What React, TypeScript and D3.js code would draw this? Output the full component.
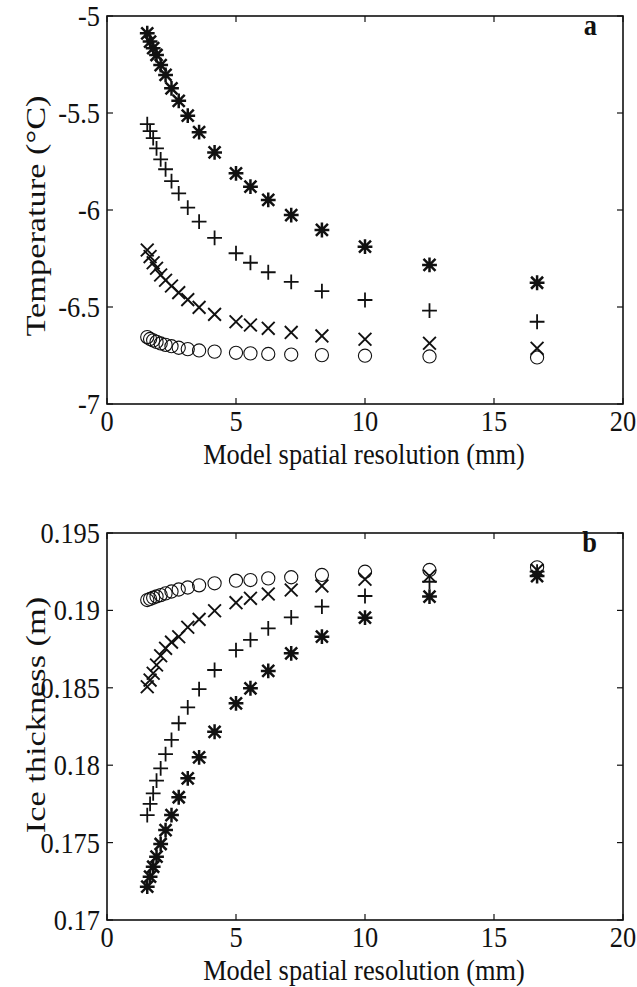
import React from "react";
import * as d3 from "d3";

// Model spatial resolution (mm) shared by every run
const resolution = [16.67, 12.5, 10, 8.33, 7.14, 6.25, 5.56, 5, 4.17, 3.57, 3.13, 2.78, 2.5, 2.27, 2.08, 1.92, 1.79, 1.67, 1.56];

// Panel a: temperature (°C)
const tempStar = [-6.375, -6.283, -6.189, -6.103, -6.026, -5.948, -5.88, -5.811, -5.703, -5.599, -5.514, -5.437, -5.373, -5.304, -5.253, -5.201, -5.166, -5.132, -5.089];
const tempPlus = [-6.576, -6.519, -6.464, -6.418, -6.37, -6.321, -6.272, -6.223, -6.144, -6.06, -5.988, -5.914, -5.851, -5.79, -5.739, -5.682, -5.63, -5.593, -5.557];
const tempCross = [-6.713, -6.687, -6.666, -6.649, -6.631, -6.61, -6.593, -6.576, -6.538, -6.502, -6.462, -6.426, -6.392, -6.362, -6.335, -6.3, -6.272, -6.24, -6.206];
const tempCircle = [-6.76, -6.755, -6.751, -6.748, -6.745, -6.742, -6.739, -6.736, -6.73, -6.724, -6.717, -6.71, -6.702, -6.695, -6.688, -6.68, -6.672, -6.665, -6.655];

// Panel b: ice thickness (m)
const iceStar = [0.19222, 0.19089, 0.18953, 0.1883, 0.18723, 0.18609, 0.18497, 0.184, 0.18216, 0.18051, 0.17915, 0.17793, 0.17678, 0.17581, 0.17491, 0.17409, 0.17344, 0.1728, 0.17215];
const icePlus = [0.1925, 0.19185, 0.19093, 0.19024, 0.18955, 0.18884, 0.18809, 0.18744, 0.18615, 0.18492, 0.18374, 0.18271, 0.18163, 0.18072, 0.1798, 0.179, 0.17818, 0.1775, 0.17678];
const iceCross = [0.1926, 0.19222, 0.19201, 0.19158, 0.19132, 0.19106, 0.19078, 0.1905, 0.18998, 0.18942, 0.18891, 0.1883, 0.18795, 0.18755, 0.18707, 0.18647, 0.18594, 0.1855, 0.18507];
const iceCircle = [0.19278, 0.19261, 0.1925, 0.19229, 0.19214, 0.19207, 0.19196, 0.19192, 0.19175, 0.19162, 0.19148, 0.19135, 0.19122, 0.1911, 0.19099, 0.1909, 0.19082, 0.19074, 0.19067];

// Axis ticks
const xTicks = [0, 5, 10, 15, 20];
const xTickLabels = ["0", "5", "10", "15", "20"];
const tempTicks = [-5, -5.5, -6, -6.5, -7];
const tempTickLabels = ["-5", "-5.5", "-6", "-6.5", "-7"];
const iceTicks = [0.195, 0.19, 0.185, 0.18, 0.175, 0.17];
const iceTickLabels = ["0.195", "0.19", "0.185", "0.18", "0.175", "0.17"];

const W = 637;
const H = 987;
const LEFT = 107;
const RIGHT = 623;
const FONT = "'Liberation Serif', 'Times New Roman', serif";
const FS = 26.4;
const SY = 1.15; // vertical stretch of horizontal lettering
const SY_LABEL = 1.3; // stretch along the rotated axis titles
const INK = "#111";

type Marker = "star" | "plus" | "cross" | "circle";

function MarkerShape({ kind, x, y }: { kind: Marker; x: number; y: number }) {
  if (kind === "circle") {
    return <circle cx={x} cy={y} r={6.6} fill="none" stroke={INK} strokeWidth={1.1} />;
  }
  const p = 7.4;
  const c = 6.4;
  const plusPath = `M${x - p},${y}H${x + p}M${x},${y - p}V${y + p}`;
  const crossPath = `M${x - c},${y - c}L${x + c},${y + c}M${x - c},${y + c}L${x + c},${y - c}`;
  if (kind === "plus") return <path d={plusPath} stroke={INK} strokeWidth={1.8} fill="none" />;
  if (kind === "cross") return <path d={crossPath} stroke={INK} strokeWidth={1.9} fill="none" />;
  const s = 6.0;
  const starPath = `M${x - 7.4},${y}H${x + 7.4}M${x},${y - 7.4}V${y + 7.4}M${x - s},${y - s}L${x + s},${y + s}M${x - s},${y + s}L${x + s},${y - s}`;
  return <path d={starPath} stroke={INK} strokeWidth={2.5} fill="none" />;
}

type Series = { kind: Marker; values: number[] };

function Panel({
  top,
  bottom,
  yDomain,
  yTicks,
  yTickLabels,
  yLabel,
  yLabelCenter,
  letter,
  series,
}: {
  top: number;
  bottom: number;
  yDomain: [number, number];
  yTicks: number[];
  yTickLabels: string[];
  yLabel: string;
  yLabelCenter: number;
  letter: string;
  series: Series[];
}) {
  const x = d3.scaleLinear().domain([0, 20]).range([LEFT, RIGHT]);
  const y = d3.scaleLinear().domain(yDomain).range([bottom, top]);
  const tl = 6;
  return (
    <g>
      {/* inward ticks on all four sides */}
      {xTicks.map((t) => (
        <g key={"xt" + t}>
          <line x1={x(t)} x2={x(t)} y1={bottom} y2={bottom - tl} stroke={INK} strokeWidth={1.2} />
          <line x1={x(t)} x2={x(t)} y1={top} y2={top + tl} stroke={INK} strokeWidth={1.2} />
        </g>
      ))}
      {yTicks.map((t) => (
        <g key={"yt" + t}>
          <line x1={LEFT} x2={LEFT + tl} y1={y(t)} y2={y(t)} stroke={INK} strokeWidth={1.2} />
          <line x1={RIGHT} x2={RIGHT - tl} y1={y(t)} y2={y(t)} stroke={INK} strokeWidth={1.2} />
        </g>
      ))}
      <rect x={LEFT} y={top} width={RIGHT - LEFT} height={bottom - top} fill="none" stroke={INK} strokeWidth={1.6} />

      {/* tick labels */}
      {xTicks.map((t, i) => (
        <text
          key={"xl" + t}
          transform={`translate(${x(t)},${bottom + 27}) scale(1,${SY})`}
          textAnchor="middle"
          fontFamily={FONT}
          fontSize={FS}
          fill={INK}
        >
          {xTickLabels[i]}
        </text>
      ))}
      {yTicks.map((t, i) => (
        <text
          key={"yl" + t}
          transform={`translate(${LEFT - 7},${y(t) + 10}) scale(1,${SY})`}
          textAnchor="end"
          fontFamily={FONT}
          fontSize={FS}
          fill={INK}
        >
          {yTickLabels[i]}
        </text>
      ))}

      {/* axis titles */}
      <text
        transform={`translate(${(LEFT + RIGHT) / 2 - 1},${bottom + 60}) scale(1,${SY})`}
        textAnchor="middle"
        fontFamily={FONT}
        fontSize={FS}
        fill={INK}
      >
        Model spatial resolution (mm)
      </text>
      <text
        transform={`translate(45,${yLabelCenter}) scale(1,${SY_LABEL}) rotate(-90)`}
        textAnchor="middle"
        fontFamily={FONT}
        fontSize={FS}
        fill={INK}
      >
        {yLabel}
      </text>
      <text
        transform={`translate(597,${top + 19}) scale(1,${SY})`}
        textAnchor="end"
        fontFamily={FONT}
        fontSize={FS}
        fontWeight="bold"
        fill={INK}
      >
        {letter}
      </text>

      {/* data markers */}
      {series.map((s) =>
        s.values.map((v, i) => <MarkerShape key={s.kind + i} kind={s.kind} x={x(resolution[i])} y={y(v)} />)
      )}
    </g>
  );
}

export default function App() {
  return (
    <svg
      width={W}
      height={H}
      viewBox={`0 0 ${W} ${H}`}
      style={{ position: "absolute", left: 0, top: 0, background: "#fff" }}
    >
      <rect width={W} height={H} fill="#fff" />
      <Panel
        top={16}
        bottom={404}
        yDomain={[-7, -5]}
        yTicks={tempTicks}
        yTickLabels={tempTickLabels}
        yLabel="Temperature (°C)"
        yLabelCenter={216}
        letter="a"
        series={[
          { kind: "circle", values: tempCircle },
          { kind: "cross", values: tempCross },
          { kind: "plus", values: tempPlus },
          { kind: "star", values: tempStar },
        ]}
      />
      <Panel
        top={533}
        bottom={920}
        yDomain={[0.17, 0.195]}
        yTicks={iceTicks}
        yTickLabels={iceTickLabels}
        yLabel="Ice thickness (m)"
        yLabelCenter={715}
        letter="b"
        series={[
          { kind: "circle", values: iceCircle },
          { kind: "cross", values: iceCross },
          { kind: "plus", values: icePlus },
          { kind: "star", values: iceStar },
        ]}
      />
    </svg>
  );
}
